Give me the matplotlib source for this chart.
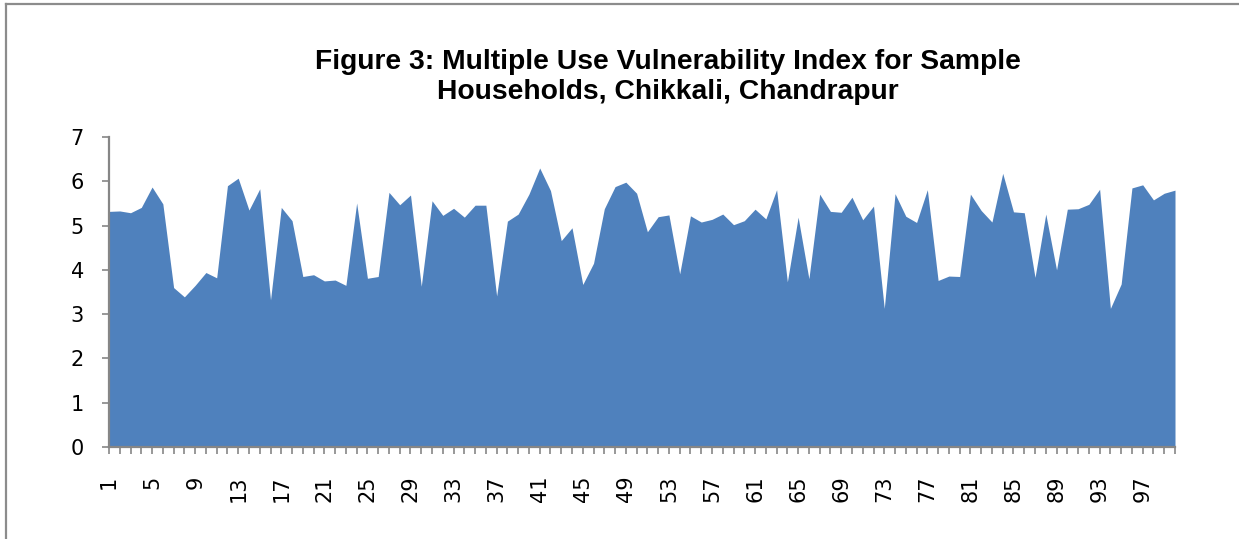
import matplotlib
matplotlib.use('Agg')
import matplotlib.pyplot as plt
from matplotlib.lines import Line2D

# household number (category axis)
households = list(range(1, 101))

# vulnerability index per household
index_values = [5.32, 5.33, 5.29, 5.41, 5.87, 5.49, 3.60, 3.39, 3.65, 3.94,
                3.82, 5.90, 6.07, 5.35, 5.83, 3.32, 5.41, 5.11, 3.85, 3.89,
                3.75, 3.77, 3.65, 5.51, 3.81, 3.85, 5.75, 5.47, 5.69, 3.63,
                5.56, 5.23, 5.39, 5.19, 5.46, 5.46, 3.41, 5.10, 5.26, 5.71,
                6.30, 5.79, 4.66, 4.95, 3.67, 4.15, 5.38, 5.88, 5.98, 5.73,
                4.86, 5.20, 5.24, 3.91, 5.22, 5.08, 5.14, 5.26, 5.02, 5.11,
                5.37, 5.15, 5.81, 3.73, 5.19, 3.80, 5.71, 5.32, 5.30, 5.64,
                5.13, 5.44, 3.13, 5.72, 5.21, 5.07, 5.81, 3.76, 3.86, 3.85,
                5.71, 5.34, 5.08, 6.18, 5.31, 5.29, 3.83, 5.26, 4.00, 5.37,
                5.38, 5.48, 5.82, 3.13, 3.68, 5.85, 5.92, 5.58, 5.73, 5.80]

y_ticks = [0, 1, 2, 3, 4, 5, 6, 7]
label_every = 4

title = ('Figure 3: Multiple Use Vulnerability Index for Sample\n'
         'Households, Chikkali, Chandrapur')


def main():
    W, H = 1239, 539
    fig = plt.figure(figsize=(W / 100, H / 100), dpi=100)

    # plot area in pixels: left 109, right 1175, top 137, bottom 447
    ax = fig.add_axes([109 / W, (H - 447) / H, (1175 - 109) / W, (447 - 137) / H])

    ax.fill_between(households, index_values, 0, color='#4F81BD', linewidth=0)

    ax.set_xlim(households[0], households[-1])
    ax.set_ylim(0, 7)

    ax.set_yticks(y_ticks)
    ax.set_xticks(households)
    ax.set_xticklabels([str(h) if (h - 1) % label_every == 0 else ''
                        for h in households], rotation=90)

    axis_grey = '#868686'
    for side in ['top', 'right']:
        ax.spines[side].set_visible(False)
    for side in ['left', 'bottom']:
        ax.spines[side].set_color(axis_grey)
        ax.spines[side].set_linewidth(1.6)

    ax.tick_params(axis='y', length=5, width=1.2, color=axis_grey,
                   labelsize=15, pad=13, direction='out')
    ax.tick_params(axis='x', length=5, width=1.2, color=axis_grey,
                   labelsize=15, pad=15.5, direction='out')

    fig.text(668 / W, 1 - 49 / H, title, ha='center', va='top',
             fontsize=20.3, fontweight='bold', linespacing=1.2,
             family=['Liberation Sans', 'DejaVu Sans'])

    # chart border (right and bottom edges fall outside the picture)
    fig.add_artist(Line2D([6 / W, 6 / W], [0, 1 - 4 / H], color='#8c8c8c', lw=1.6))
    fig.add_artist(Line2D([6 / W, 1], [1 - 4 / H, 1 - 4 / H], color='#8c8c8c', lw=1.6))

    fig.savefig('out.png', dpi=100)


if __name__ == "__main__":
    main()
